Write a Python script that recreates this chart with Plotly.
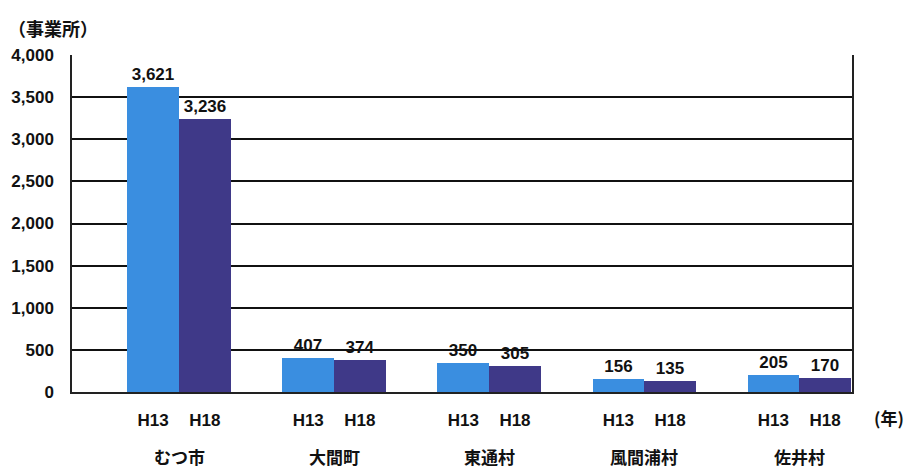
import plotly.graph_objects as go

# 事業所数（H13 / H18）
municipalities = ["むつ市", "大間町", "東通村", "風間浦村", "佐井村"]
years = ["H13", "H18"]
h13_values = [3621, 407, 350, 156, 205]
h18_values = [3236, 374, 305, 135, 170]
y_ticks = [0, 500, 1000, 1500, 2000, 2500, 3000, 3500, 4000]

colors = {"H13": "#3a8ee0", "H18": "#3f3988"}
bar_w = 1 / 3
latin = "Liberation Sans, Arial, sans-serif"
cjk = "Noto Sans CJK JP, sans-serif"
label_font = dict(family=latin, size=17, color="#111111", weight="bold")

pos = list(range(len(municipalities)))
fig = go.Figure()
for name, vals, off in [("H13", h13_values, -bar_w), ("H18", h18_values, 0.0)]:
    fig.add_trace(go.Bar(
        x=pos, y=vals, name=name, width=bar_w, offset=off,
        marker=dict(color=colors[name], line=dict(width=0)),
        text=[f"{v:,}" for v in vals], textposition="outside",
        textfont=label_font, cliponaxis=False,
    ))

tickvals, ticktext = [], []
for p in pos:
    for k, yr in enumerate(years):
        tickvals.append(p + (k - 0.5) * bar_w)
        ticktext.append(yr)

annotations = [
    dict(x=p, y=-0.19, xref="x", yref="paper", text=m, showarrow=False,
         font=dict(family=cjk, size=17, color="#111111", weight="bold"),
         yanchor="middle")
    for p, m in zip(pos, municipalities)
]
annotations.append(dict(x=1.0, y=-0.075, xref="paper", yref="paper", text="(年)",
                        showarrow=False, xanchor="left", xshift=20, yanchor="middle",
                        font=dict(family=cjk, size=17, color="#111111", weight="bold")))
annotations.append(dict(x=0, y=1.0, xref="paper", yref="paper", text="（事業所）",
                        showarrow=False, xanchor="left", xshift=-66, yanchor="bottom", yshift=12,
                        font=dict(family=cjk, size=18, color="#111111", weight="bold")))

fig.update_layout(
    width=914, height=468,
    margin=dict(l=72, r=62, t=55, b=76),
    plot_bgcolor="white", paper_bgcolor="white",
    showlegend=False, bargap=0,
    annotations=annotations,
    xaxis=dict(range=[-0.69, 4.34], tickvals=tickvals, ticktext=ticktext,
               showgrid=False, zeroline=False, showline=True, linecolor="#222222", linewidth=1.5,
               mirror=False, ticks="", ticklabelstandoff=12,
               tickfont=dict(family=latin, size=17, color="#111111", weight="bold")),
    yaxis=dict(range=[0, 4000], tickvals=y_ticks, tickformat=",",
               showgrid=True, gridcolor="#111111", gridwidth=1.5,
               showline=True, linecolor="#222222", linewidth=1.5, mirror=True,
               zeroline=False, ticks="", ticklabelstandoff=13,
               tickfont=dict(family=latin, size=17, color="#111111", weight="bold")),
)

fig.write_html("out.html")
